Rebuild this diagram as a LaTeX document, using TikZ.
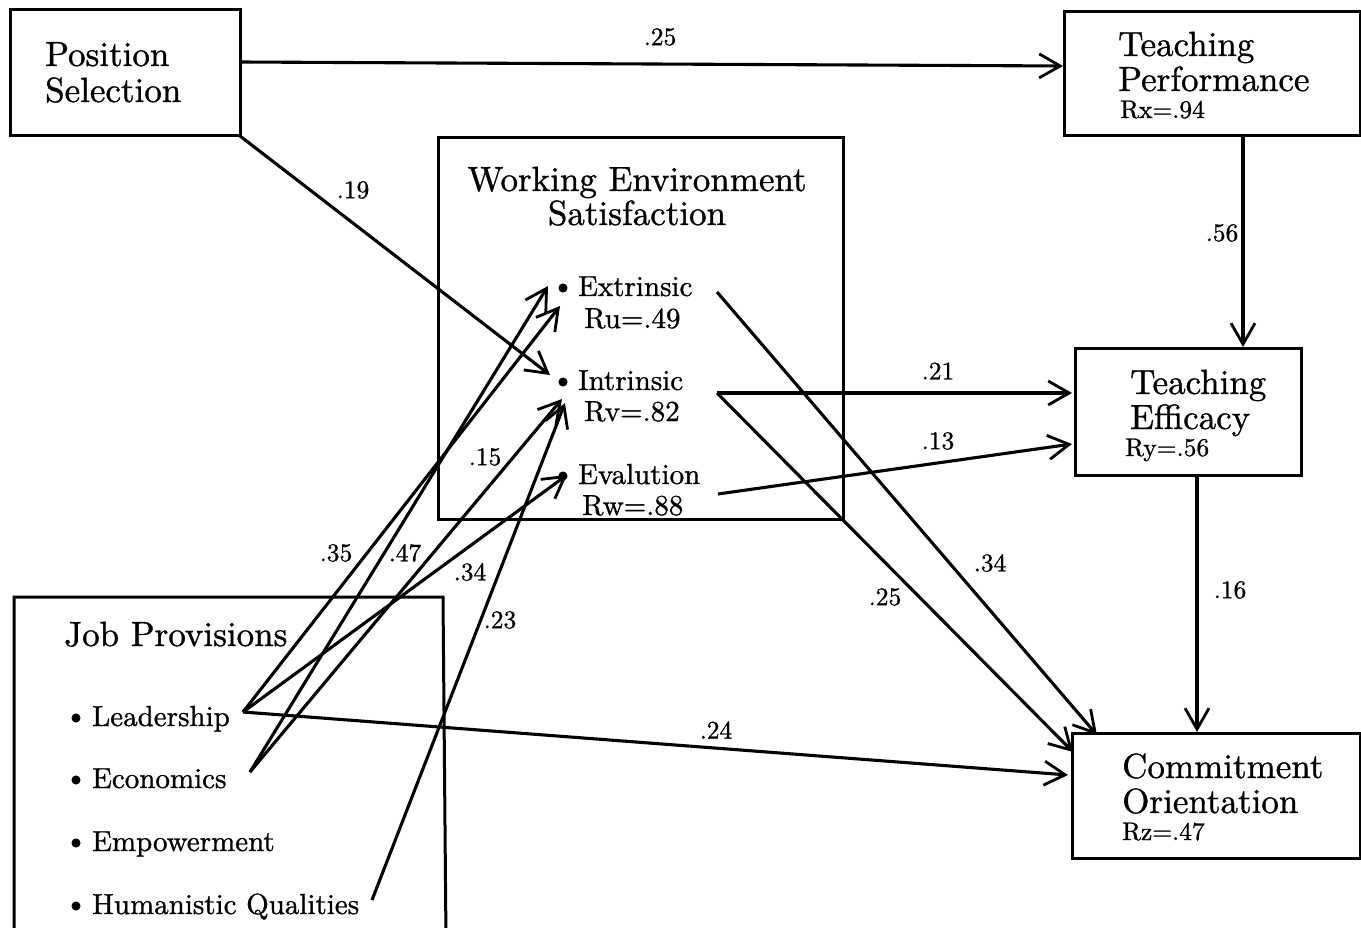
\documentclass[tikz,border=0pt]{standalone}
\usepackage{fontspec}
\setmainfont{lmroman10-regular.otf}[FakeBold=1.0]
\usetikzlibrary{arrows.meta}
\tikzset{
  box/.style={draw, line width=3pt, inner sep=0pt},
  conn/.style={line width=3.1pt, -{Straight Barb[length=21pt,width=24pt,line width=2.8pt]}},
  big/.style={anchor=base west, inner sep=0pt, font=\fontsize{35}{36}\selectfont},
  mid/.style={anchor=base west, inner sep=0pt, font=\fontsize{29}{30}\selectfont},
  small/.style={anchor=base west, inner sep=0pt, font=\fontsize{25.5}{26}\selectfont},
  lbl/.style={inner sep=0pt, font=\fontsize{25.5}{26}\selectfont},
  dot/.style={circle, fill, draw, line width=1pt, inner sep=0pt, minimum size=8pt},
}
\begin{document}
\begin{tikzpicture}[x=1pt,y=-1pt]
\useasboundingbox (0,0) rectangle (1361,928);
% boxes
\node[box, minimum width=230pt, minimum height=126pt] (ps) at (125,73) {};
\node[box, minimum width=296pt, minimum height=124pt] (tp) at (1212,74) {};
\node[box, minimum width=405pt, minimum height=381pt] (wes) at (640.5,328.5) {};
\node[box, minimum width=226pt, minimum height=127pt] (te) at (1188,411.5) {};
\node[box, minimum width=288pt, minimum height=125pt] (co) at (1216,795.5) {};
\coordinate (jpbl) at (14,940);
\coordinate (jptl) at (14,597);
\coordinate (jptr) at (443,597);
\coordinate (jpbr) at (446,940);
\draw[line width=3pt] (jpbl) -- (jptl) -- (jptr) -- (jpbr);
% texts
\node[big] (t1) at (45,66) {Position};
\node[big] (t2) at (45,102) {Selection};
\node[big] (t3) at (1118,56) {Teaching};
\node[big] (t4) at (1118,91) {Performance};
\node[small] (t5) at (1120,118) {Rx=.94};
\node[big, anchor=base] (t6) at (637,191) {Working Environment};
\node[big, anchor=base] (t7) at (637,225) {Satisfaction};
\node[dot] (b1) at (563,288) {};
\node[mid] (t8) at (578,296) {Extrinsic};
\node[mid] (t9) at (584,328) {Ru=.49};
\node[dot] (b2) at (563,382) {};
\node[mid] (t10) at (578,390) {Intrinsic};
\node[mid] (t11) at (584,421) {Rv=.82};
\node[dot] (b3) at (563,476) {};
\node[mid] (t12) at (578,484) {Evalution};
\node[mid] (t13) at (582,515) {Rw=.88};
\node[big] (t14) at (1130,394) {Teaching};
\node[big] (t15) at (1130,429) {Efficacy};
\node[small] (t16) at (1125,456) {Ry=.56};
\node[big] (t17) at (1122,778) {Commitment};
\node[big] (t18) at (1122,813) {Orientation};
\node[small] (t19) at (1122,840) {Rz=.47};
\node[big] (t20) at (64,646) {Job Provisions};
\node[dot] (b4) at (76,718) {};
\node[mid] (t21) at (92,726) {Leadership};
\node[dot] (b5) at (76,780) {};
\node[mid] (t22) at (92,788) {Economics};
\node[dot] (b6) at (76,843) {};
\node[mid] (t23) at (92,851) {Empowerment};
\node[dot] (b7) at (76,906) {};
\node[mid] (t24) at (92,914) {Humanistic Qualities};
% connector end points
\coordinate (lead) at (243,712);
\coordinate (econ) at (250,772);
\coordinate (hum) at (372,900);
\coordinate (extA) at (548,286);
\coordinate (extB) at (560,306);
\coordinate (intA) at (550,375);
\coordinate (intB) at (562,399);
\coordinate (intC) at (565,403);
\coordinate (evaT) at (567,475);
\coordinate (extS) at (717,292);
\coordinate (intS) at (717,393);
\coordinate (evaS) at (718,494);
\coordinate (teA) at (1072,393);
\coordinate (teB) at (1072,444);
\coordinate (coA) at (1097,735);
\coordinate (coB) at (1073,752);
\coordinate (coC) at (1068,775);
\coordinate (psA) at (240,62);
\coordinate (tpA) at (1063,66);
\coordinate (psB) at (240,136);
\coordinate (tpB) at (1243,136);
\coordinate (teT) at (1243,347);
\coordinate (teD) at (1197,475);
\coordinate (coT) at (1197,732);
% connectors
\draw[conn] (psA) -- (tpA);
\draw[conn] (psB) -- (intA);
\draw[conn] (tpB) -- (teT);
\draw[conn] (teD) -- (coT);
\draw[conn] (lead) -- (extB);
\draw[conn] (econ) -- (extA);
\draw[conn] (econ) -- (intB);
\draw[conn] (lead) -- (evaT);
\draw[conn] (hum) -- (intC);
\draw[conn] (lead) -- (coC);
\draw[conn] (intS) -- (teA);
\draw[conn] (evaS) -- (teB);
\draw[conn] (extS) -- (coA);
\draw[conn] (intS) -- (coB);
% labels
\node[lbl] (l1) at (660,37) {.25};
\node[lbl] (l2) at (353,190) {.19};
\node[lbl] (l3) at (1222,233) {.56};
\node[lbl] (l4) at (938,371) {.21};
\node[lbl] (l5) at (938,441) {.13};
\node[lbl] (l6) at (485,457) {.15};
\node[lbl] (l7) at (336,553) {.35};
\node[lbl] (l8) at (405,553) {.47};
\node[lbl] (l9) at (470,572) {.34};
\node[lbl] (l10) at (500,620) {.23};
\node[lbl] (l11) at (990,563) {.34};
\node[lbl] (l12) at (885,597) {.25};
\node[lbl] (l13) at (1230,590) {.16};
\node[lbl] (l14) at (716,730) {.24};
\end{tikzpicture}
\end{document}
